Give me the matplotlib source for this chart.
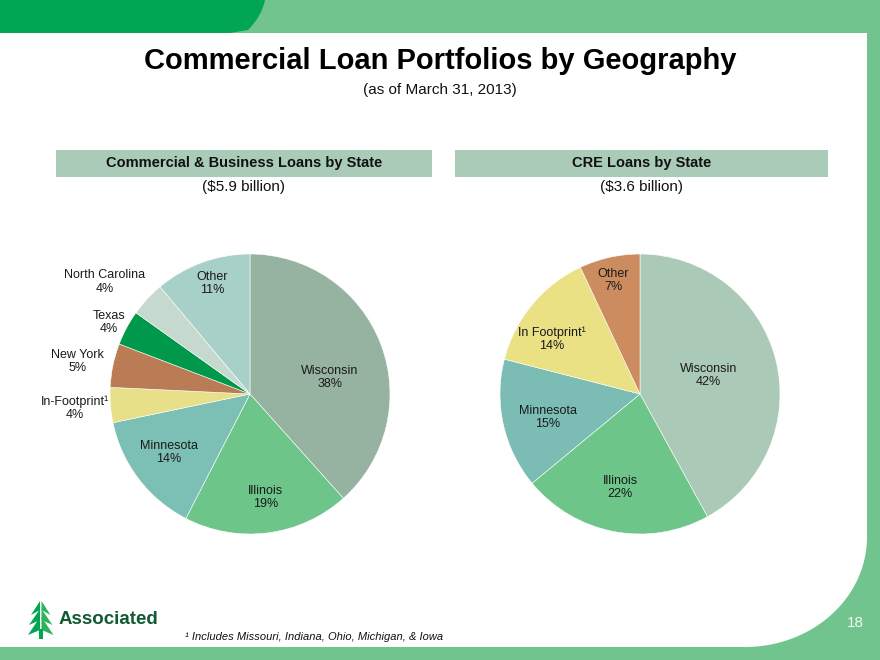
import numpy as np
import matplotlib
matplotlib.use('Agg')
from matplotlib import pyplot as plt
from matplotlib.patches import Rectangle, Polygon, PathPatch
from matplotlib.path import Path

plt.rcParams['font.family'] = ['Liberation Sans', 'DejaVu Sans']

# --- data ---
cb_labels = ['Wisconsin', 'Illinois', 'Minnesota', 'In-Footprint\u00b9',
             'New York', 'Texas', 'North Carolina', 'Other']
cb_values = [38, 19, 14, 4, 5, 4, 4, 11]

cre_labels = ['Wisconsin', 'Illinois', 'Minnesota', 'In Footprint\u00b9', 'Other']
cre_values = [42, 22, 15, 14, 7]

# --- styling / layout ---
cb_colors = ['#95b3a0', '#6dc58a', '#7bbfb5', '#e8df89',
             '#b97c55', '#00984a', '#c6d9cf', '#a7d0c9']
cre_colors = ['#aac9b7', '#6dc58a', '#7bbdb4', '#eae084', '#cd8c5f']
# label centres, in units of pie radius relative to pie centre
cb_label_pos = [(0.57, 0.12), (0.11, -0.74), (-0.58, -0.42), (-1.25, -0.10),
                (-1.23, 0.23), (-1.01, 0.51), (-1.04, 0.80), (-0.27, 0.79)]
cre_label_pos = [(0.49, 0.13), (-0.14, -0.67), (-0.66, -0.17), (-0.63, 0.39),
                 (-0.19, 0.81)]

W, H = 880, 660
GREEN_BG = '#72c48f'
HEADER = '#a9cbb8'


def Y(y):
    return H - y


fig = plt.figure(figsize=(8.8, 6.6), dpi=100)
ax = fig.add_axes([0, 0, 1, 1])
fig.patch.set_facecolor(GREEN_BG)

# white panel with rounded bottom-right corner
t = np.linspace(0, np.pi / 2, 50)
cx, cy, rx, ry = 745, 537, 122, 110
corner = [(cx + rx * np.cos(a), Y(cy + ry * np.sin(a))) for a in t]
panel = [(0, Y(33)), (867, Y(33))] + corner + [(0, Y(647))]
ax.add_patch(Polygon(panel, closed=True, facecolor='white', edgecolor='none', zorder=1))

# dark green tab top-left
verts = [(0, Y(0)), (265, Y(0)), (262, Y(16)), (248, Y(30)), (230, Y(33)), (0, Y(33)), (0, Y(0))]
codes = [Path.MOVETO, Path.LINETO, Path.CURVE3, Path.CURVE3, Path.LINETO, Path.LINETO, Path.CLOSEPOLY]
ax.add_patch(PathPatch(Path(verts, codes), facecolor='#00a651', edgecolor='none', zorder=2))

# titles
ax.text(440, Y(61), 'Commercial Loan Portfolios by Geography', ha='center', va='center',
        fontsize=21, fontweight='bold', color='black', zorder=3)
ax.text(440, Y(90), '(as of March 31, 2013)', ha='center', va='center',
        fontsize=11, color='#111111', zorder=3)

# section headers
for x0, x1, title, sub in [(56, 432, 'Commercial & Business Loans by State', '($5.9 billion)'),
                           (455, 828, 'CRE Loans by State', '($3.6 billion)')]:
    ax.add_patch(Rectangle((x0, Y(177)), x1 - x0, 27, facecolor=HEADER, edgecolor='none', zorder=2))
    ax.text((x0 + x1) / 2, Y(163.5), title, ha='center', va='center', fontsize=10.5,
            fontweight='bold', color='#111111', zorder=3)
    ax.text((x0 + x1) / 2, Y(187), sub, ha='center', va='center', fontsize=11,
            color='#111111', zorder=3)


def draw_pie(center, radius, values, labels, colors, label_pos):
    wedges, _ = ax.pie(values, colors=colors, startangle=90, counterclock=False,
                       center=center, radius=radius, frame=True,
                       wedgeprops=dict(linewidth=0.4, edgecolor='white'))
    for w in wedges:
        w.set_zorder(3)
    for lab, val, (dx, dy) in zip(labels, values, label_pos):
        ax.text(center[0] + dx * radius, center[1] + dy * radius, '%s\n%d%%' % (lab, val),
                ha='center', va='center', fontsize=9, color='#1a1a1a',
                linespacing=1.15, zorder=4)


draw_pie((250, Y(394)), 140, cb_values, cb_labels, cb_colors, cb_label_pos)
draw_pie((640, Y(394)), 140, cre_values, cre_labels, cre_colors, cre_label_pos)

# logo
tree_green = '#00a651'
for top, bot, half in [(601, 615, 9), (609, 625, 11), (617, 635, 12)]:
    ax.add_patch(Polygon([(40, Y(top)), (40 - half, Y(bot)), (40, Y(bot - 5))],
                         closed=True, facecolor=tree_green, edgecolor='none', zorder=3))
    ax.add_patch(Polygon([(41.5, Y(top)), (41.5 + half, Y(bot)), (41.5, Y(bot - 5))],
                         closed=True, facecolor='#2fb35a', edgecolor='none', zorder=3))
ax.add_patch(Rectangle((38.5, Y(639)), 4, 10, facecolor=tree_green, edgecolor='none', zorder=3))
ax.text(59, Y(619), 'Associated', ha='left', va='center', fontsize=13.5, fontweight='bold',
        color='#125a33', zorder=3)

# footnote and page number
ax.text(185, Y(637), '\u00b9 Includes Missouri, Indiana, Ohio, Michigan, & Iowa', ha='left',
        va='center', fontsize=8, style='italic', color='#111111', zorder=3)
ax.text(855, Y(623), '18', ha='center', va='center', fontsize=11, color='#f2f7f3', zorder=3)

ax.set_xlim(0, W)
ax.set_ylim(0, H)
ax.set_aspect('auto')
ax.axis('off')

fig.savefig('out.png', dpi=100, facecolor=fig.get_facecolor())
